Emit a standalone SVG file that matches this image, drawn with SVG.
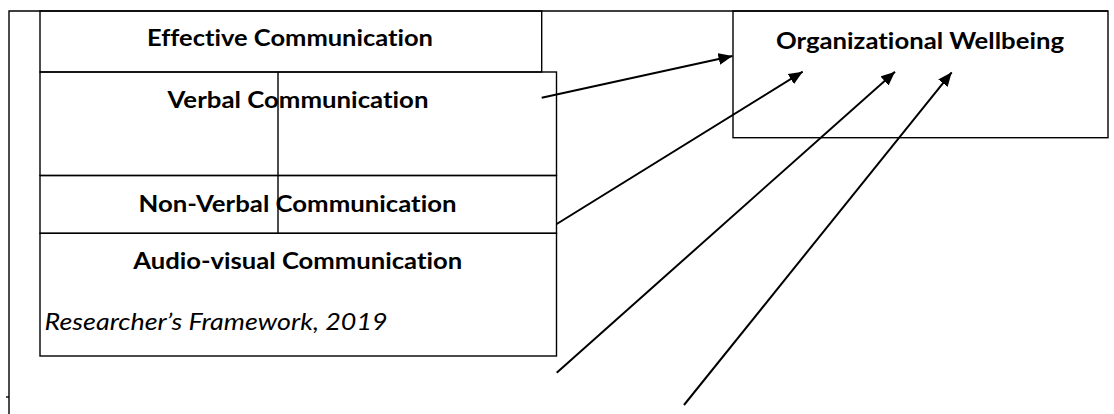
<svg xmlns="http://www.w3.org/2000/svg" width="1114" height="414" viewBox="0 0 1114 414">
  <defs>
    <style>
      .box { fill: none; stroke: #000; stroke-width: 1.4; }
      .frame { fill: none; stroke: #000; stroke-width: 1.4; }
      .lbl { font-family: Lato, "Liberation Sans", sans-serif; font-weight: bold; font-size: 23px; fill: #000; text-anchor: middle; font-variant-ligatures: none; }
      .cite { font-family: Lato, "Liberation Sans", sans-serif; font-style: italic; font-size: 23px; fill: #000; font-variant-ligatures: none; }
      .conn { fill: none; stroke: #000; stroke-width: 2; }
    </style>
    <marker id="ah" markerUnits="userSpaceOnUse" markerWidth="15" markerHeight="12" refX="14" refY="6" orient="auto">
      <path d="M0,0 L14,6 L0,12 z" fill="#000"/>
    </marker>
  </defs>
  <rect width="1114" height="414" fill="#fff"/>

  <g id="frame">
    <path class="frame" d="M9,414 V11 H1108"/>
    <line class="frame" x1="6" y1="397" x2="9" y2="397"/>
  </g>

  <g id="effective-communication">
    <rect class="box" x="40" y="11" width="501.7" height="61"/>
    <text class="lbl" x="290" y="45.7" textLength="286" lengthAdjust="spacingAndGlyphs">Effective Communication</text>
  </g>

  <g id="verbal-communication">
    <rect class="box" x="40" y="72" width="516.5" height="103.5"/>
    <text class="lbl" x="298" y="108.3" textLength="261" lengthAdjust="spacingAndGlyphs">Verbal Communication</text>
  </g>

  <g id="non-verbal-communication">
    <rect class="box" x="40" y="175.5" width="516.5" height="57.8"/>
    <text class="lbl" x="297.5" y="211.7" textLength="318" lengthAdjust="spacingAndGlyphs">Non-Verbal Communication</text>
  </g>

  <g id="divider">
    <line class="box" x1="278" y1="72" x2="278" y2="234"/>
  </g>

  <g id="audio-visual-communication">
    <rect class="box" x="40" y="233.3" width="516.5" height="122.7"/>
    <text class="lbl" x="297.7" y="269.3" textLength="329" lengthAdjust="spacingAndGlyphs">Audio-visual Communication</text>
    <text class="cite" x="44.6" y="330" textLength="343" lengthAdjust="spacingAndGlyphs">Researcher’s Framework, 2019</text>
  </g>

  <g id="organizational-wellbeing">
    <rect class="box" x="733" y="11" width="375" height="126.7"/>
    <text class="lbl" x="920" y="49.3" textLength="288" lengthAdjust="spacingAndGlyphs">Organizational Wellbeing</text>
  </g>

  <g id="connectors">
    <line class="conn" x1="541.7" y1="97.7" x2="732.5" y2="56" marker-end="url(#ah)"/>
    <line class="conn" x1="556.7" y1="224" x2="802.7" y2="71.7" marker-end="url(#ah)"/>
    <line class="conn" x1="556.7" y1="372.7" x2="895" y2="71.7" marker-end="url(#ah)"/>
    <line class="conn" x1="684" y1="405" x2="951.7" y2="72.3" marker-end="url(#ah)"/>
  </g>
</svg>
